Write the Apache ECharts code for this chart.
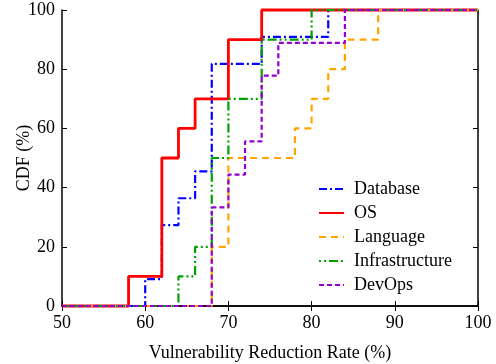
<!DOCTYPE html>
<html>
<head>
<meta charset="utf-8">
<script src="https://cdn.jsdelivr.net/npm/echarts@6/dist/echarts.min.js"></script>
<style>
  html, body { margin: 0; padding: 0; background: #fff; }
  #chart { width: 496px; height: 364px; }
</style>
</head>
<body>
<div id="chart"></div>
<script>
// step points of each CDF: x = reduction rate (%), y = CDF (%)
const dbX = [50, 60, 62, 64, 66, 68, 74, 82, 100];
const dbY = [0, 9.1, 27.3, 36.4, 45.5, 81.8, 90.9, 100, 100];

const osX = [50, 58, 62, 64, 66, 70, 74, 100];
const osY = [0, 10, 50, 60, 70, 90, 100, 100];

const langX = [50, 68, 70, 78, 80, 82, 84, 88, 100];
const langY = [0, 20, 50, 60, 70, 80, 90, 100, 100];

const infraX = [50, 64, 66, 68, 70, 74, 80, 100];
const infraY = [0, 10, 20, 50, 70, 90, 100, 100];

const devX = [50, 68, 70, 72, 74, 76, 84, 100];
const devY = [0, 33.3, 44.4, 55.6, 77.8, 88.9, 100, 100];

const xTicks = [50, 60, 70, 80, 90, 100];
const yTicks = [0, 20, 40, 60, 80, 100];

const font = 'Liberation Serif';

function pairs(xs, ys) {
  return xs.map((x, i) => [x, ys[i]]);
}

function stepSeries(name, xs, ys, color, width, dash) {
  return {
    name: name,
    type: 'line',
    step: 'end',
    data: pairs(xs, ys),
    symbol: 'none',
    clip: false,
    color: color,
    lineStyle: { color: color, width: width, type: dash },
    emphasis: { disabled: true }
  };
}

const chart = echarts.init(document.getElementById('chart'), null, { renderer: 'canvas' });

const tickStyle = { show: true, inside: true, length: 5, lineStyle: { color: '#000', width: 1 } };
const lineStyle = { show: true, lineStyle: { color: '#000', width: 1.5 } };

const option = {
  animation: false,
  backgroundColor: '#fff',
  textStyle: { fontFamily: font },
  grid: { left: 62, right: 18, top: 10, bottom: 58, outerBoundsMode: 'none', containLabel: false },
  legend: {
    orient: 'vertical',
    left: 318,
    top: 180,
    padding: 0,
    itemWidth: 25,
    itemHeight: 14,
    itemGap: 6,
    itemStyle: { opacity: 0 },
    textStyle: { fontFamily: font, fontSize: 18, color: '#000', padding: [0, 0, 0, 5] },
    data: ['Database', 'OS', 'Language', 'Infrastructure', 'DevOps']
  },
  xAxis: [
    {
      type: 'value',
      min: 50,
      max: 100,
      interval: 10,
      name: 'Vulnerability Reduction Rate (%)',
      nameLocation: 'middle',
      nameGap: 38,
      nameMoveOverlap: false,
      nameTextStyle: { fontFamily: font, fontSize: 18, color: '#000' },
      axisLine: lineStyle,
      axisTick: tickStyle,
      splitLine: { show: false },
      axisLabel: {
        fontFamily: font, fontSize: 18, color: '#000', margin: 8,
        formatter: v => (xTicks.includes(v) ? String(v) : '')
      }
    },
    {
      type: 'value',
      position: 'top',
      min: 50,
      max: 100,
      interval: 10,
      axisLine: lineStyle,
      axisTick: tickStyle,
      axisLabel: { show: false },
      splitLine: { show: false }
    }
  ],
  yAxis: [
    {
      type: 'value',
      min: 0,
      max: 100,
      interval: 20,
      name: 'CDF (%)',
      nameLocation: 'middle',
      nameGap: 29,
      nameMoveOverlap: false,
      nameTextStyle: { fontFamily: font, fontSize: 18, color: '#000' },
      axisLine: lineStyle,
      axisTick: tickStyle,
      splitLine: { show: false },
      axisLabel: {
        fontFamily: font, fontSize: 18, color: '#000', margin: 7,
        formatter: v => (yTicks.includes(v) ? String(v) : '')
      }
    },
    {
      type: 'value',
      position: 'right',
      min: 0,
      max: 100,
      interval: 20,
      axisLine: lineStyle,
      axisTick: tickStyle,
      axisLabel: { show: false },
      splitLine: { show: false }
    }
  ],
  series: [
    stepSeries('Database', dbX, dbY, '#0000ff', 2.2, [8, 3, 2, 3]),
    stepSeries('OS', osX, osY, '#ff0000', 2.8, 'solid'),
    stepSeries('Language', langX, langY, '#ffa500', 2.2, [7, 5]),
    stepSeries('Infrastructure', infraX, infraY, '#00a000', 2.2, [2, 3, 2, 3, 9, 3]),
    stepSeries('DevOps', devX, devY, '#9400d3', 2.2, [5, 3])
  ]
};

chart.setOption(option);
</script>
</body>
</html>
